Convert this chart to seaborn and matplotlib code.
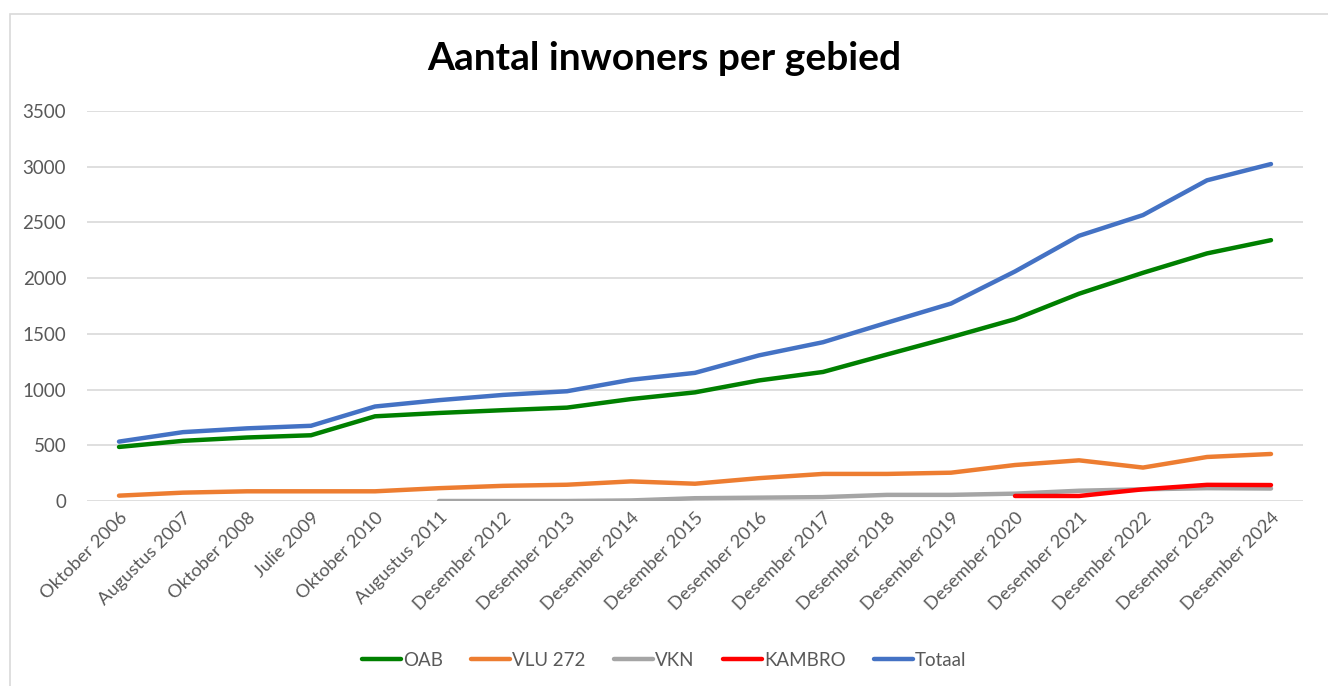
import numpy as np
import pandas as pd
import matplotlib
matplotlib.use("Agg")
import matplotlib.pyplot as plt
from matplotlib.patches import Rectangle
import seaborn as sns

# ── data ─────────────────────────────────────────────────────
periods = ["Oktober 2006", "Augustus 2007", "Oktober 2008", "Julie 2009",
           "Oktober 2010", "Augustus 2011", "Desember 2012", "Desember 2013",
           "Desember 2014", "Desember 2015", "Desember 2016", "Desember 2017",
           "Desember 2018", "Desember 2019", "Desember 2020", "Desember 2021",
           "Desember 2022", "Desember 2023", "Desember 2024"]

oab = [485, 540, 570, 590, 760, 790, 815, 838, 915, 975, 1082, 1158,
       1315, 1470, 1632, 1860, 2048, 2222, 2341]
vlu = [48, 75, 87, 87, 87, 115, 136, 146, 176, 155, 205, 243,
       243, 254, 323, 365, 300, 395, 422]
vkn = [np.nan, np.nan, np.nan, np.nan, np.nan, 0, 0, 0, 5, 25, 30, 35,
       55, 55, 66, 92, 105, 115, 112]
kambro = [np.nan] * 14 + [45, 45, 105, 145, 143]
totaal = [533, 618, 652, 675, 848, 905, 952, 985, 1088, 1150, 1307, 1425,
          1600, 1772, 2060, 2380, 2566, 2878, 3024]

series = {"OAB": oab, "VLU 272": vlu, "VKN": vkn, "KAMBRO": kambro, "Totaal": totaal}
colors = {"OAB": "#008000", "VLU 272": "#ED7D31", "VKN": "#A5A5A5",
          "KAMBRO": "#FF0000", "Totaal": "#4472C4"}

df = pd.DataFrame([
    {"Periode": i, "Gebied": name, "Inwoners": v}
    for name, vals in series.items()
    for i, v in enumerate(vals)
])

# ── plot ─────────────────────────────────────────────────────
sns.set_style("white")
plt.rcParams["font.family"] = ["Lato", "DejaVu Sans"]

fig = plt.figure(figsize=(13.28, 6.86), dpi=100)
ax = fig.add_axes([87 / 1328, 1 - 501 / 686, (1303 - 87) / 1328, (501 - 111) / 686])

sns.lineplot(data=df, x="Periode", y="Inwoners", hue="Gebied",
             palette=colors, linewidth=3.2, ax=ax, sort=False,
             solid_capstyle="round")

ax.set_xlim(-0.5, len(periods) - 0.5)
ax.set_ylim(0, 3500)
ax.set_yticks(range(0, 3501, 500))
ax.set_xticks(range(len(periods)))
ax.set_xticklabels(periods, rotation=45, ha="right", rotation_mode="anchor")
ax.tick_params(axis="both", length=0, labelcolor="#595959")
ax.tick_params(axis="y", pad=15, labelsize=13.5)
ax.tick_params(axis="x", pad=6, labelsize=13.2)
ax.grid(axis="y", color="#D9D9D9", linewidth=1.2)
ax.set_axisbelow(True)
for s in ax.spines.values():
    s.set_visible(False)
ax.set_xlabel("")
ax.set_ylabel("")

fig.text(0.5, 1 - 58 / 686, "Aantal inwoners per gebied", ha="center", va="center",
         fontsize=28, fontweight="bold", color="black")

sns.move_legend(ax, "center", bbox_to_anchor=(0.5, 1 - 660 / 686),
                bbox_transform=fig.transFigure, ncol=5, frameon=False,
                title=None, fontsize=13.5, handlelength=2.1, handletextpad=0.1,
                columnspacing=1.5)
for t in ax.get_legend().get_texts():
    t.set_color("#595959")
for h in ax.get_legend().legend_handles:
    h.set_linewidth(3.2)

# chart border
fig.patches.append(Rectangle((10 / 1328, -0.1), 1.2, 1 - 14 / 686 + 0.1,
                             transform=fig.transFigure, fill=False,
                             edgecolor="#D9D9D9", linewidth=1.2))

fig.savefig("out.png", dpi=100, facecolor="white")
